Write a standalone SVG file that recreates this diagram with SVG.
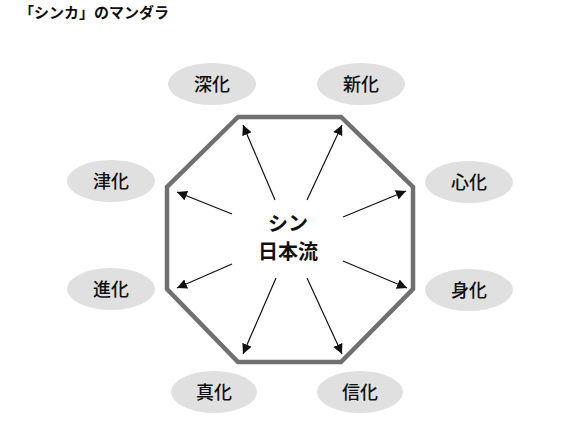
<svg xmlns="http://www.w3.org/2000/svg" width="576" height="428" viewBox="0 0 576 428">
<style>
text{font-family:"Noto Sans CJK JP","Noto Sans",sans-serif;fill:#111;text-anchor:middle}
.title{font-size:15px;font-weight:bold;text-anchor:start}
.lbl{font-size:18px;font-weight:500}
.ctr{font-size:20px;font-weight:bold}
.bub{fill:#e0e0e0}
.oct{fill:none;stroke:#707070;stroke-width:4.5;stroke-linejoin:miter}
.arr{stroke:#111;stroke-width:1.2;fill:none;marker-end:url(#ah)}
</style>
<defs>
<marker id="ah" viewBox="0 0 10 10" refX="10" refY="5" markerWidth="10" markerHeight="10" markerUnits="userSpaceOnUse" orient="auto">
<path d="M0,0 L10,5 L0,10 Z" fill="#111"/>
</marker>
</defs>
<rect width="576" height="428" fill="#fff"/>
<text class="title" x="19" y="18">「シンカ」のマンダラ</text>
<g id="center">
<polygon class="oct" points="238,117 341,117 413,187 413,289 341,362 238,362 167,289 167,187"/>
<text class="ctr" x="288" y="231">シン</text>
<text class="ctr" x="288" y="259">日本流</text>
</g>
<g id="connectors">
<line class="arr" x1="275" y1="200" x2="243" y2="125"/>
<line class="arr" x1="307" y1="200" x2="342" y2="125"/>
<line class="arr" x1="232" y1="214" x2="177" y2="192"/>
<line class="arr" x1="343" y1="217" x2="406" y2="191"/>
<line class="arr" x1="232" y1="264" x2="177" y2="288"/>
<line class="arr" x1="343" y1="261" x2="407" y2="288"/>
<line class="arr" x1="276" y1="278" x2="243" y2="354"/>
<line class="arr" x1="307" y1="278" x2="342" y2="354"/>
</g>
<g id="n-shinka-deep"><ellipse class="bub" cx="212" cy="84" rx="44" ry="21"/><text class="lbl" x="212" y="91">深化</text></g>
<g id="n-shinka-new"><ellipse class="bub" cx="361" cy="84" rx="44" ry="21"/><text class="lbl" x="361" y="91">新化</text></g>
<g id="n-shinka-tsu"><ellipse class="bub" cx="111" cy="181" rx="44" ry="21"/><text class="lbl" x="111" y="188">津化</text></g>
<g id="n-shinka-heart"><ellipse class="bub" cx="469" cy="182" rx="44" ry="21"/><text class="lbl" x="469" y="189">心化</text></g>
<g id="n-shinka-evo"><ellipse class="bub" cx="111" cy="289" rx="44" ry="21"/><text class="lbl" x="111" y="296">進化</text></g>
<g id="n-shinka-body"><ellipse class="bub" cx="469" cy="290" rx="44" ry="21"/><text class="lbl" x="469" y="297">身化</text></g>
<g id="n-shinka-true"><ellipse class="bub" cx="214" cy="392" rx="43" ry="21"/><text class="lbl" x="214" y="399">真化</text></g>
<g id="n-shinka-trust"><ellipse class="bub" cx="360" cy="392" rx="43" ry="21"/><text class="lbl" x="360" y="399">信化</text></g>
</svg>
